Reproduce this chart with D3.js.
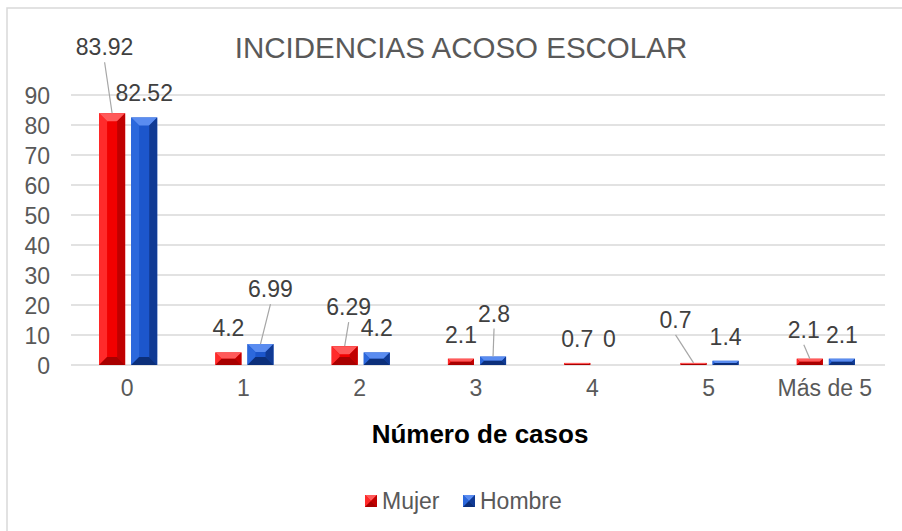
<!DOCTYPE html>
<html>
<head>
<meta charset="utf-8">
<script src="https://cdn.jsdelivr.net/npm/d3@7/dist/d3.min.js"></script>
<style>
  html, body { margin:0; padding:0; background:#fff; }
  svg { display:block; font-family:"Liberation Sans", Arial, sans-serif; }
</style>
</head>
<body>
<svg id="chart" width="902" height="531"></svg>
<script>
const categories = ["0", "1", "2", "3", "4", "5", "Más de 5"];
const seriesNames = ["Mujer", "Hombre"];
const mujer = [83.92, 4.2, 6.29, 2.1, 0.7, 0.7, 2.1];
const hombre = [82.52, 6.99, 4.2, 2.8, 0, 1.4, 2.1];
const yTicks = [0, 10, 20, 30, 40, 50, 60, 70, 80, 90];

// label nudges (dx, dy from bar top) -- moved labels get a leader line
const labelNudge = {
  Mujer:  [[-7.5,-58,true],[0,-16],[4,-31,true],[0,-16],[0,-16],[-18,-35,true],[-6,-21,true]],
  Hombre: [[0,-16.5],[10,-47,true],[0,-16],[1,-35,true],[0,-18],[0,-16],[0,-16]]
};

const COLORS = {
  Mujer:  { main:"#f20000", light:"#ff5a5a", side:"#ff2a2a", dark:"#a80000", edge:"#c00000" },
  Hombre: { main:"#1c56cc", light:"#5a8cf0", side:"#2c68dc", dark:"#0c2f7a", edge:"#103a94" }
};

const svg = d3.select("#chart");
const margin = { left:71, right:17, top:95, bottom:166 };
const W = 902, H = 531;

// outer frame (only top/left edges visible)
svg.append("rect").attr("x",7).attr("y",8).attr("width",1000).attr("height",1000)
  .attr("fill","#fff").attr("stroke","#d9d9d9").attr("stroke-width",1.5);

const x0 = d3.scaleBand().domain(categories).range([margin.left, W - margin.right]);
const x1 = d3.scaleBand().domain(seriesNames)
  .range([x0.bandwidth()*0.25, x0.bandwidth()*0.75]).paddingInner(0.1875);
const y = d3.scaleLinear().domain([0, 90]).range([H - margin.bottom, margin.top]);

// gridlines
svg.append("g").selectAll("line").data(yTicks).enter().append("line")
  .attr("x1", margin.left).attr("x2", W - margin.right)
  .attr("y1", d => y(d)).attr("y2", d => y(d))
  .attr("stroke","#d9d9d9").attr("stroke-width",1.5);

// y axis labels
const yAxis = d3.axisLeft(y).tickValues(yTicks).tickSize(0).tickPadding(0);
const yg = svg.append("g").attr("transform",`translate(50,0)`).call(yAxis);
yg.select(".domain").remove();
yg.selectAll("text").attr("fill","#595959").style("font-size","23px").attr("dy","0.35em");

// x axis labels
const xAxis = d3.axisBottom(x0).tickSize(0).tickPadding(0);
const xg = svg.append("g").attr("transform",`translate(-2,${y(0)})`).call(xAxis);
xg.select(".domain").remove();
xg.selectAll("text").attr("fill","#595959").style("font-size","23px").attr("dy","31px");

// bars with bevel
const rows = [];
categories.forEach((c, i) => {
  rows.push({ cat:c, i, s:"Mujer", v:mujer[i] });
  rows.push({ cat:c, i, s:"Hombre", v:hombre[i] });
});

function bevelBar(g, bx, by, bw, bh, col) {
  if (bh <= 0) return;
  const b = Math.min(8, bh/2, bw/2);
  const xr = bx + bw, yb = by + bh;
  g.append("rect").attr("x",bx).attr("y",by).attr("width",bw).attr("height",bh).attr("fill",col.main);
  const poly = (pts, fill) => g.append("polygon").attr("points", pts.map(p=>p.join(",")).join(" ")).attr("fill",fill);
  poly([[bx,by],[xr,by],[xr-b,by+b],[bx+b,by+b]], col.light);
  poly([[bx,by],[bx+b,by+b],[bx+b,yb-b],[bx,yb]], col.side);
  poly([[xr,by],[xr,yb],[xr-b,yb-b],[xr-b,by+b]], col.edge);
  poly([[bx,yb],[bx+b,yb-b],[xr-b,yb-b],[xr,yb]], col.dark);
}

const barG = svg.append("g");
rows.forEach(d => {
  const bx = x0(d.cat) + x1(d.s) - 1;
  bevelBar(barG, bx, y(d.v), x1.bandwidth(), y(0) - y(d.v), COLORS[d.s]);
});

// data labels
const lblG = svg.append("g");
rows.forEach(d => {
  const nd = labelNudge[d.s][d.i];
  const cx = x0(d.cat) + x1(d.s) - 1 + x1.bandwidth()/2;
  const top = y(d.v);
  const tx = cx + nd[0], ty = top + nd[1];
  if (nd[2]) {
    lblG.append("line").attr("x1",tx).attr("y1",ty+7).attr("x2",cx).attr("y2",top)
      .attr("stroke","#a6a6a6").attr("stroke-width",1.2);
  }
  lblG.append("text").attr("x",tx).attr("y",ty).attr("text-anchor","middle")
    .attr("fill","#404040").style("font-size","23px").text(d.v);
});

// title
svg.append("text").attr("x",461).attr("y",58).attr("text-anchor","middle")
  .attr("fill","#595959").style("font-size","29.5px").text("INCIDENCIAS ACOSO ESCOLAR");

// axis title
svg.append("text").attr("x",480).attr("y",443).attr("text-anchor","middle")
  .attr("fill","#000").style("font-size","26px").style("font-weight","bold").text("Número de casos");

// legend
const legend = svg.append("g");
const legX = [365, 463];
seriesNames.forEach((s, k) => {
  bevelBar(legend, legX[k], 495, 12, 12, COLORS[s]);
  legend.append("text").attr("x", legX[k] + 17).attr("y", 509)
    .attr("fill","#595959").style("font-size","23px").text(s);
});
</script>
</body>
</html>
